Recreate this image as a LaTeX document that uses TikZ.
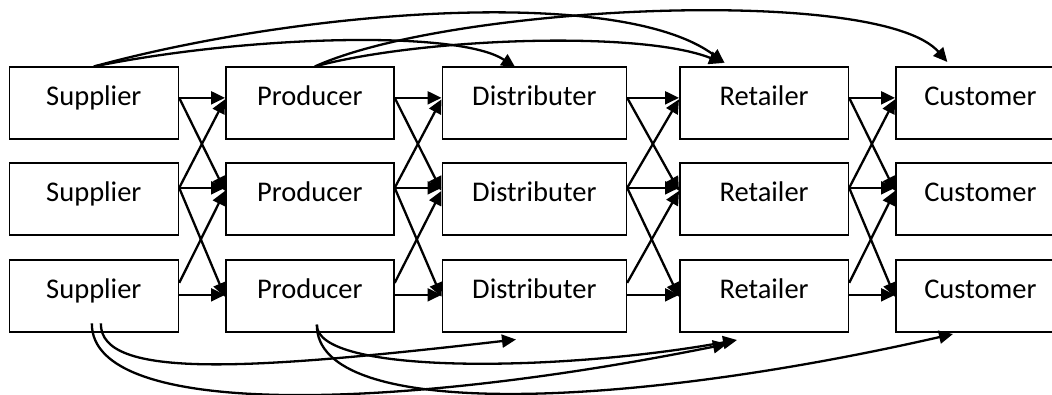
\documentclass[tikz,border=0pt]{standalone}
\usepackage{fontspec}
\setmainfont{Carlito}
\usetikzlibrary{arrows.meta}
\begin{document}
\begin{tikzpicture}[x=1pt,y=-1pt,
  box/.style={draw, line width=1.7pt, minimum width=#1, minimum height=72pt,
    inner sep=0pt, text height=20pt, text depth=15.4pt,
    font=\fontsize{28.5}{34}\selectfont, anchor=north west},
  box/.default=169pt,
  arr/.style={line width=2.3pt, -{Triangle[length=14pt,width=13pt]}}]
\useasboundingbox (0,0) rectangle (1052,395);
\clip (0,0) rectangle (1052,395);
% boxes
\node[box=169pt]   (n11) at (8.5,66.5) {Supplier};
\node[box=169pt]   (n12) at (8.5,162.5) {Supplier};
\node[box=169pt]   (n13) at (8.5,259) {Supplier};
\node[box=168pt]   (n21) at (225,66.5) {Producer};
\node[box=168pt]   (n22) at (225,162.5) {Producer};
\node[box=168pt]   (n23) at (225,259) {Producer};
\node[box=184pt]   (n31) at (441.5,66.5) {Distributer};
\node[box=184pt]   (n32) at (441.5,162.5) {Distributer};
\node[box=184pt]   (n33) at (441.5,259) {Distributer};
\node[box=168.5pt] (n41) at (679,66.5) {Retailer};
\node[box=168.5pt] (n42) at (679,162.5) {Retailer};
\node[box=168.5pt] (n43) at (679,259) {Retailer};
\node[box=169pt]   (n51) at (895,66.5) {Customer};
\node[box=169pt]   (n52) at (895,162.5) {Customer};
\node[box=169pt]   (n53) at (895,259) {Customer};
% straight links between neighbouring stages
\foreach \a/\b in {1/2,2/3,3/4,4/5} {
  \draw[arr] ([yshift=5.5pt]n\a1.east) -- ([yshift=5.5pt]n\b1.west);
  \draw[arr] ([yshift=5.5pt]n\a1.east) -- ([yshift=8.5pt]n\b2.west);
  \draw[arr] ([yshift=11.5pt]n\a2.east) -- ([yshift=4pt]n\b1.west);
  \draw[arr] ([yshift=11.5pt]n\a2.east) -- ([yshift=11.5pt]n\b2.west);
  \draw[arr] ([yshift=11.5pt]n\a2.east) -- ([yshift=-1pt]n\b3.west);
  \draw[arr] ([yshift=13pt]n\a3.east) -- ([yshift=8.5pt]n\b2.west);
  \draw[arr] ([yshift=1pt]n\a3.east) -- ([yshift=1pt]n\b3.west);
}
% top curved links
\draw[arr] (n11.north) .. controls (250,35) and (460,30) .. ([xshift=-19pt,yshift=-1pt]n31.north);
\draw[arr] (n11.north) .. controls (300,10) and (620,-15) .. ([xshift=-39.5pt,yshift=3.5pt]n41.north);
\draw[arr] ([xshift=5pt]n21.north) .. controls (420,38) and (640,30) .. ([xshift=-41pt,yshift=3.5pt]n41.north);
\draw[arr] ([xshift=5pt]n21.north) .. controls (450,5) and (880,-15) .. ([xshift=-33pt,yshift=4.5pt]n51.north);
% bottom curved links
\coordinate (tD)  at (516,339.5);
\coordinate (tR1) at (727,344);
\coordinate (tR2) at (737,340);
\coordinate (tC)  at (953,334);
\draw[arr] ([xshift=7pt,yshift=9.3pt]n13.south) .. controls (100,380) and (250,370) .. (tD);
\draw[arr] ([xshift=-2pt,yshift=9.3pt]n13.south) .. controls (91,420) and (400,410) .. (tR1);
\draw[arr] ([xshift=7pt,yshift=8pt]n23.south) .. controls (316,375) and (560,372) .. (tR2);
\draw[arr] ([xshift=7pt,yshift=8pt]n23.south) .. controls (316,420) and (620,410) .. (tC);
\end{tikzpicture}
\end{document}
